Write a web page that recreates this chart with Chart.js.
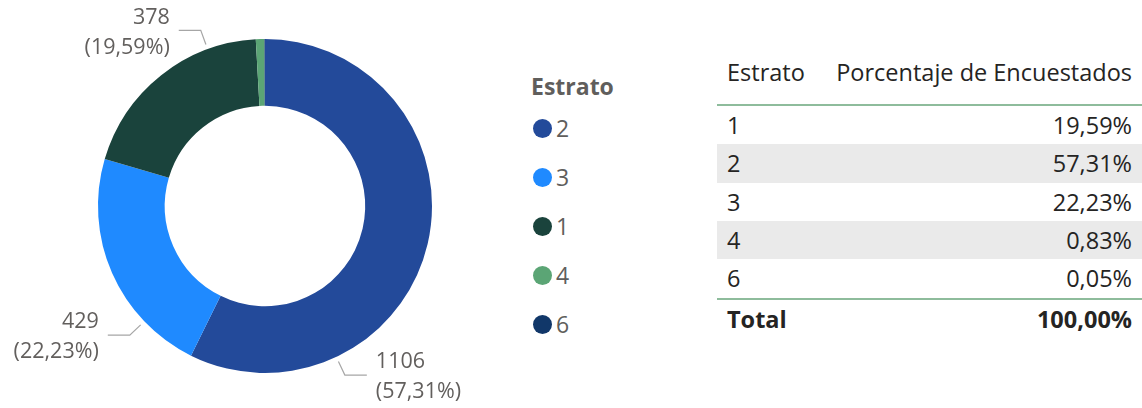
<!DOCTYPE html>
<html>
<head>
<meta charset="utf-8">
<script src="https://cdn.jsdelivr.net/npm/chart.js@4"></script>
<style>
  body { margin: 0; background: #fff; font-family: "Open Sans", sans-serif; }
  #wrap { position: relative; width: 1142px; height: 408px; overflow: hidden; }
  #donut { position: absolute; left: 0; top: 0; }
  .lg-title { position: absolute; left: 531px; top: 70px; font-size: 23px; font-weight: bold; color: #605E5C; line-height: 32px; }
  .lg-item { position: absolute; left: 533px; height: 30px; line-height: 30px; font-size: 23px; color: #605E5C; }
  .lg-dot { display: inline-block; width: 19px; height: 19px; border-radius: 50%; vertical-align: middle; margin-right: 4px; position: relative; top: -2px; }
  .tb { position: absolute; left: 717px; width: 425px; font-size: 23.5px; color: #252423; }
  .tb .c1 { position: absolute; left: 10px; }
  .tb .c2 { position: absolute; right: 10px; }
  .line { position: absolute; left: 717px; width: 425px; height: 2px; background: #8EBC9C; }
</style>
</head>
<body>
<div id="wrap">
  <canvas id="donut" width="530" height="408"></canvas>
  <div id="legend"></div>
  <div id="table"></div>
</div>
<script>
// legend order (as drawn in the donut)
const categories = ['2', '3', '1', '4', '6'];
const counts = [1106, 429, 378, 16, 1];
const colors = ['#234A9A', '#1F8AFF', '#1A433C', '#5BA575', '#113769'];

const legendTitle = 'Estrato';
const tableHeaders = ['Estrato', 'Porcentaje de Encuestados'];
const totalLabel = 'Total';

// where along each slice the leader line starts (0..1), null = no label
const labelAt = [0.75, 0.25, 0.76, null, null];

const total = counts.reduce((a, b) => a + b, 0);

function pct(v) {
    return (v / total * 100).toFixed(2).replace('.', ',') + '%';
}

const labelPlugin = {
    id: 'sliceLabels',
    afterDatasetsDraw(chart) {
        const ctx = chart.ctx;
        const meta = chart.getDatasetMeta(0);
        ctx.save();
        meta.data.forEach((arc, i) => {
            if (labelAt[i] == null) return;
            let p = arc.getProps(['x', 'y', 'startAngle', 'endAngle', 'outerRadius'], true);
            let a = p.startAngle + (p.endAngle - p.startAngle) * labelAt[i];
            let r0 = p.outerRadius + 5;
            let x0 = p.x + Math.cos(a) * r0;
            let y0 = p.y + Math.sin(a) * r0;
            let x1 = x0 + Math.cos(a) * 15;
            let y1 = y0 + Math.sin(a) * 15;
            let left = Math.cos(a) < 0;
            let x2 = left ? x1 - 22 : x1 + 22;

            ctx.strokeStyle = '#A6A6A6';
            ctx.lineWidth = 1.2;
            ctx.beginPath();
            ctx.moveTo(x0, y0);
            ctx.lineTo(x1, y1);
            ctx.lineTo(x2, y1);
            ctx.stroke();

            ctx.fillStyle = '#625F5D';
            ctx.font = '21.5px "Open Sans", sans-serif';
            ctx.textBaseline = 'middle';
            ctx.textAlign = left ? 'right' : 'left';
            let tx = left ? x2 - 9 : x2 + 9;
            ctx.fillText(String(counts[i]), tx, y1 - 13);
            ctx.fillText('(' + pct(counts[i]) + ')', tx, y1 + 17);
        });
        ctx.restore();
    }
};

new Chart(document.getElementById('donut'), {
    type: 'doughnut',
    data: {
        labels: categories,
        datasets: [{
            data: counts,
            backgroundColor: colors,
            borderWidth: 0
        }]
    },
    options: {
        responsive: false,
        animation: false,
        devicePixelRatio: 1,
        cutout: '60%',
        layout: { padding: { top: 39, bottom: 35 } },
        plugins: {
            legend: { display: false },
            tooltip: { enabled: false }
        }
    },
    plugins: [labelPlugin]
});

// legend
let lg = '<div class="lg-title">' + legendTitle + '</div>';
categories.forEach((c, i) => {
    lg += '<div class="lg-item" style="top:' + (113 + i * 49) + 'px"><span class="lg-dot" style="background:' + colors[i] + '"></span>' + c + '</div>';
});
document.getElementById('legend').innerHTML = lg;

// table, sorted by estrato
const order = categories.map((c, i) => i).sort((a, b) => Number(categories[a]) - Number(categories[b]));
const rowTop = 106, rowH = 38.3;
let tb = '';
tb += '<div class="tb" style="top:50px;height:44px;line-height:44px"><span class="c1">' + tableHeaders[0] + '</span><span class="c2">' + tableHeaders[1] + '</span></div>';
tb += '<div class="line" style="top:103.5px"></div>';
order.forEach((idx, r) => {
    let bg = r % 2 == 1 ? '#EAEAEA' : '#fff';
    tb += '<div class="tb" style="top:' + (rowTop + r * rowH) + 'px;height:' + rowH + 'px;line-height:' + rowH + 'px;background:' + bg + '"><span class="c1">' + categories[idx] + '</span><span class="c2">' + pct(counts[idx]) + '</span></div>';
});
let endY = rowTop + order.length * rowH;
tb += '<div class="line" style="top:' + endY + 'px"></div>';
tb += '<div class="tb" style="top:' + (endY + 2) + 'px;height:38px;line-height:38px;font-weight:bold"><span class="c1">' + totalLabel + '</span><span class="c2">' + pct(total) + '</span></div>';
document.getElementById('table').innerHTML = tb;
</script>
</body>
</html>
